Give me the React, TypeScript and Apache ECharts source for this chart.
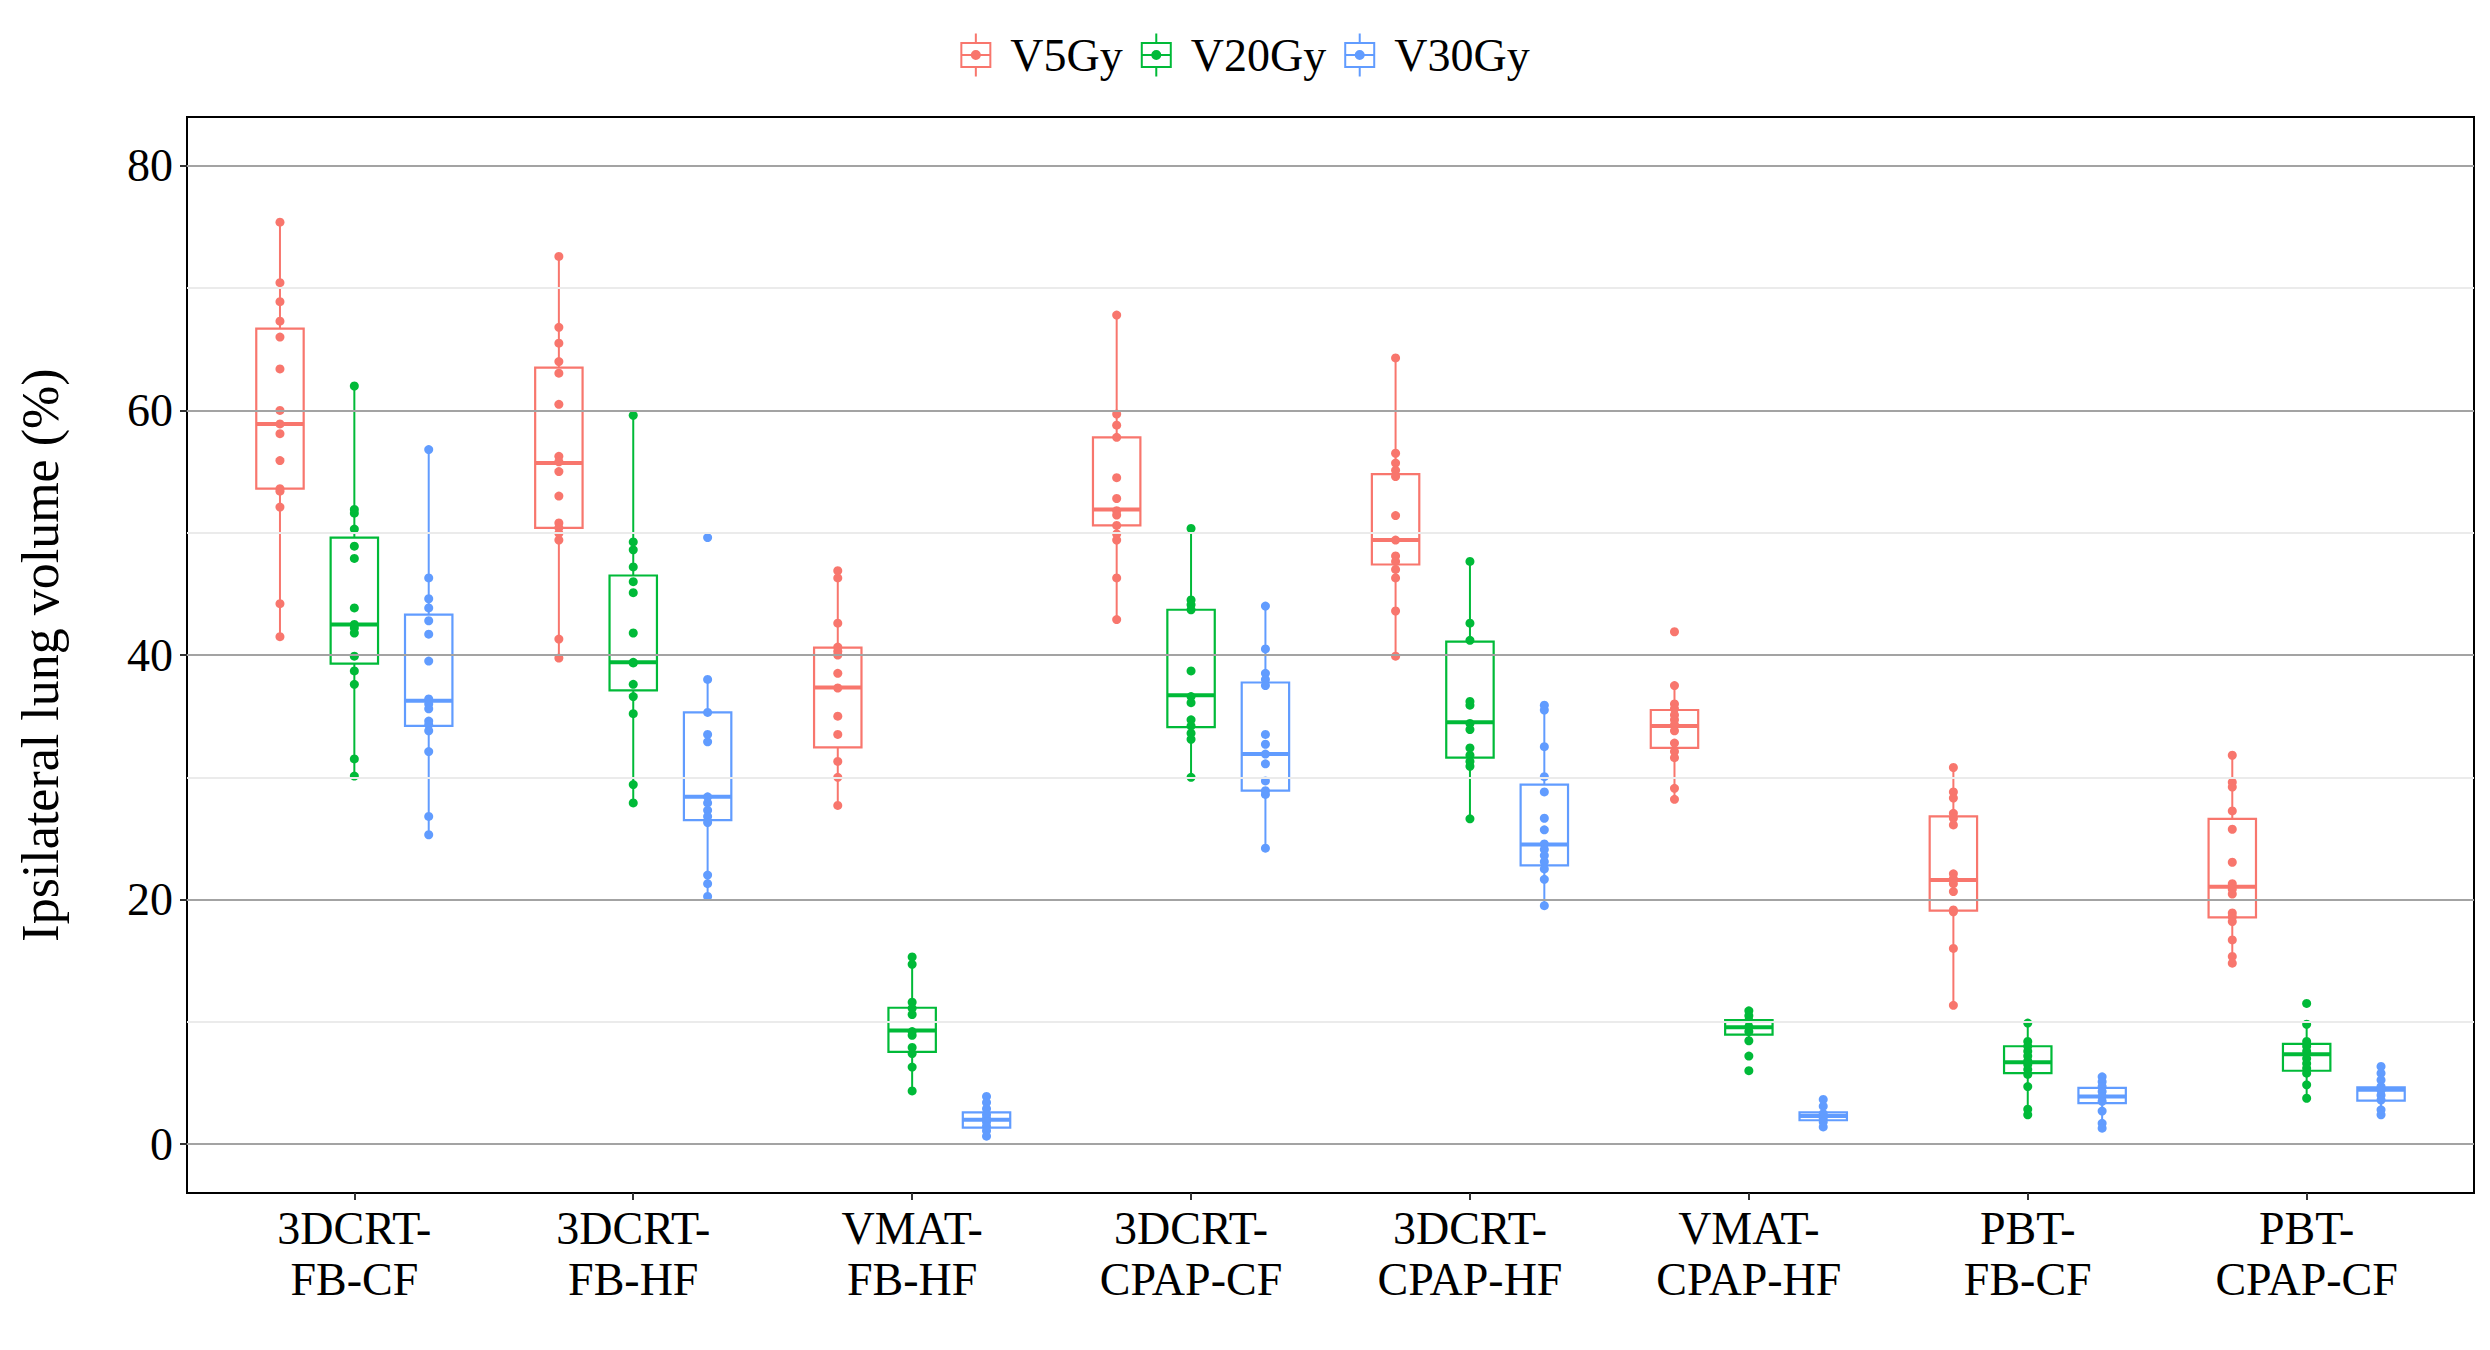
import React, { useEffect, useRef } from 'react';
import * as echarts from 'echarts';

const categories = [
  '3DCRT-\nFB-CF',
  '3DCRT-\nFB-HF',
  'VMAT-\nFB-HF',
  '3DCRT-\nCPAP-CF',
  '3DCRT-\nCPAP-HF',
  'VMAT-\nCPAP-HF',
  'PBT-\nFB-CF',
  'PBT-\nCPAP-CF',
];
const seriesNames = ['V5Gy', 'V20Gy', 'V30Gy'];
const seriesColors = ['#F8766D', '#00BA38', '#619CFF'];
const yTicks = [0, 20, 40, 60, 80];
const yMinorTicks = [10, 30, 50, 70];
const xTicks = [1, 2, 3, 4, 5, 6, 7, 8];

// [lower whisker, Q1, median, Q3, upper whisker]
const v5Box = [
  [41.5, 53.6, 58.9, 66.7, 75.4],
  [39.75, 50.4, 55.7, 63.5, 72.6],
  [27.7, 32.45, 37.35, 40.6, 46.9],
  [42.9, 50.6, 51.9, 57.8, 67.8],
  [39.9, 47.4, 49.4, 54.8, 64.3],
  [28.2, 32.4, 34.2, 35.5, 37.5],
  [11.35, 19.1, 21.6, 26.8, 30.8],
  [14.8, 18.55, 21.05, 26.6, 31.8],
];
const v20Box = [
  [30.1, 39.3, 42.5, 49.6, 62.0],
  [27.9, 37.1, 39.4, 46.5, 59.6],
  [4.35, 7.55, 9.3, 11.15, 15.3],
  [30.0, 34.1, 36.7, 43.7, 50.35],
  [26.6, 31.6, 34.5, 41.1, 47.65],
  [8.4, 8.95, 9.55, 10.15, 10.9],
  [2.4, 5.8, 6.7, 8.0, 9.9],
  [3.75, 6.0, 7.35, 8.2, 9.8],
];
const v30Box = [
  [25.3, 34.2, 36.25, 43.3, 56.8],
  [20.25, 26.5, 28.4, 35.3, 38.0],
  [0.65, 1.35, 2.0, 2.6, 3.9],
  [24.2, 28.9, 31.9, 37.75, 44.0],
  [19.5, 22.8, 24.5, 29.4, 35.9],
  [1.4, 1.95, 2.3, 2.6, 3.65],
  [1.3, 3.35, 3.9, 4.6, 5.5],
  [2.4, 3.55, 4.45, 4.65, 6.35],
];

const v5Points = [
  [75.4, 70.45, 68.9, 67.3, 66.0, 63.4, 60.0, 58.9, 58.1, 55.9, 53.6, 53.4, 52.1, 44.2, 41.5],
  [72.6, 66.8, 65.5, 64.0, 63.05, 60.5, 56.25, 55.8, 55.0, 53.0, 50.8, 50.4, 49.95, 49.4, 41.3, 39.75],
  [46.9, 46.3, 42.6, 40.65, 40.3, 40.0, 38.5, 37.3, 35.0, 33.5, 31.3, 30.0, 27.7],
  [67.8, 59.7, 58.8, 57.8, 54.5, 52.8, 51.8, 51.45, 50.6, 49.9, 49.4, 46.3, 42.9],
  [64.3, 56.5, 55.7, 55.1, 54.6, 51.4, 49.4, 48.1, 47.65, 47.0, 46.3, 43.6, 39.9],
  [41.9, 37.5, 36.0, 35.6, 35.1, 34.7, 34.3, 33.8, 32.8, 32.1, 31.6, 29.1, 28.2],
  [30.8, 28.8, 28.3, 27.05, 26.65, 26.1, 22.1, 21.7, 21.3, 20.65, 19.15, 19.0, 16.0, 11.35],
  [31.8, 29.6, 29.2, 27.25, 25.75, 23.05, 21.3, 20.85, 20.45, 18.9, 18.6, 18.2, 16.7, 15.35, 14.8],
];
const v20Points = [
  [62.0, 51.9, 51.6, 50.3, 48.9, 47.9, 43.85, 42.5, 42.2, 41.8, 39.9, 38.7, 37.6, 31.5, 30.1],
  [59.6, 49.25, 48.6, 47.2, 46.0, 45.1, 41.8, 39.4, 39.35, 37.6, 36.6, 35.2, 29.4, 27.9],
  [15.3, 14.7, 11.6, 11.1, 10.6, 9.2, 8.9, 7.9, 7.4, 6.3, 4.35],
  [50.35, 44.5, 44.1, 43.7, 38.7, 36.6, 36.1, 34.7, 34.2, 33.6, 33.1, 30.0],
  [47.65, 42.6, 41.2, 36.2, 35.9, 34.4, 33.9, 32.4, 31.8, 31.3, 30.9, 26.6],
  [10.9, 10.5, 10.1, 9.6, 9.2, 8.45, 7.2, 6.0],
  [9.9, 8.4, 8.0, 7.6, 7.2, 6.8, 6.5, 6.1, 5.7, 4.7, 2.85, 2.4],
  [11.5, 9.8, 8.4, 8.0, 7.6, 7.0, 6.6, 6.2, 5.8, 4.85, 3.75],
];
const v30Points = [
  [56.8, 46.3, 44.6, 43.85, 42.8, 41.7, 39.5, 36.4, 36.0, 35.6, 34.6, 34.3, 33.8, 32.1, 26.8, 25.3],
  [49.6, 38.0, 35.3, 33.5, 32.9, 28.4, 27.9, 27.3, 26.8, 26.3, 22.0, 21.3, 20.25],
  [3.9, 3.4, 2.9, 2.4, 2.1, 1.8, 1.45, 1.1, 0.65],
  [44.0, 40.5, 38.5, 38.0, 37.5, 33.5, 32.7, 31.9, 31.1, 29.7, 28.9, 28.6, 24.2],
  [35.9, 35.5, 32.5, 30.05, 28.8, 26.65, 25.7, 24.55, 24.1, 23.6, 23.1, 22.5, 21.65, 19.5],
  [3.65, 3.1, 2.5, 2.1, 1.8, 1.4],
  [5.5, 5.1, 4.7, 4.3, 3.9, 3.5, 2.7, 1.7, 1.3],
  [6.35, 5.8, 5.25, 4.7, 4.4, 4.0, 3.6, 2.8, 2.4],
];

const boxes = [v5Box, v20Box, v30Box];
const points = [v5Points, v20Points, v30Points];

const FONT = '"Liberation Serif", "Times New Roman", serif';
const DODGE = 0.8 / 3;
const BOX_W = 0.17;

const LEGEND_ICON =
  'path://M0 8.5H31V34.5H0Z M2 10.5V32.5H29V10.5Z ' +
  'M14.5 0H16.5V8.5H14.5Z M14.5 34.5H16.5V43H14.5Z ' +
  'M2 20.5H29V22.5H2Z ' +
  'M10.5 21.5A5 5 0 1 1 20.5 21.5A5 5 0 1 1 10.5 21.5Z';

export default function App() {
  const ref = useRef<HTMLDivElement>(null);

  useEffect(() => {
    document.body.style.margin = '0';
    if (!ref.current) return;
    const chart = echarts.init(ref.current, null, { renderer: 'svg' });

    const series: any[] = [];

    series.push({
      type: 'line',
      name: 'grid',
      data: [],
      z: 1,
      silent: true,
      markLine: {
        silent: true,
        symbol: 'none',
        label: { show: false },
        animation: false,
        data: [
          ...yMinorTicks.map((v) => ({ yAxis: v, lineStyle: { color: '#EBEBEB', width: 2, type: 'solid' } })),
          ...yTicks.map((v) => ({ yAxis: v, lineStyle: { color: '#A3A3A3', width: 2, type: 'solid' } })),
        ],
      },
    });

    seriesNames.forEach((name, si) => {
      const color = seriesColors[si];
      const offset = (si - 1) * DODGE;
      series.push({
        type: 'custom',
        name,
        z: 2,
        itemStyle: { color },
        data: boxes[si].map((b, i) => [i + 1, ...b]),
        renderItem: (params: any, api: any) => {
          const x = api.value(0) + offset;
          const lo = api.coord([x, api.value(1)]);
          const q1 = api.coord([x, api.value(2)]);
          const md = api.coord([x, api.value(3)]);
          const q3 = api.coord([x, api.value(4)]);
          const hi = api.coord([x, api.value(5)]);
          const half = api.size([BOX_W, 0])[0] / 2;
          const cx = lo[0];
          return {
            type: 'group',
            children: [
              { type: 'line', shape: { x1: cx, y1: hi[1], x2: cx, y2: q3[1] }, style: { stroke: color, lineWidth: 2 } },
              { type: 'line', shape: { x1: cx, y1: q1[1], x2: cx, y2: lo[1] }, style: { stroke: color, lineWidth: 2 } },
              {
                type: 'rect',
                shape: { x: cx - half, y: q3[1], width: half * 2, height: q1[1] - q3[1] },
                style: { fill: '#fff', stroke: color, lineWidth: 2.2 },
              },
              { type: 'line', shape: { x1: cx - half, y1: md[1], x2: cx + half, y2: md[1] }, style: { stroke: color, lineWidth: 4 } },
            ],
          };
        },
      });
    });

    seriesNames.forEach((name, si) => {
      const offset = (si - 1) * DODGE;
      series.push({
        type: 'scatter',
        name,
        z: 3,
        symbol: 'circle',
        symbolSize: 9,
        itemStyle: { color: seriesColors[si], opacity: 1 },
        data: points[si].flatMap((arr, i) => arr.map((v) => [i + 1 + offset, v])),
      });
    });

    chart.setOption({
      animation: false,
      backgroundColor: '#fff',
      legend: {
        top: 32,
        left: 'center',
        padding: 0,
        itemWidth: 31,
        itemHeight: 43,
        itemGap: 18,
        selectedMode: false,
        data: seriesNames.map((n) => ({ name: n, icon: LEGEND_ICON })),
        textStyle: { fontFamily: FONT, fontSize: 46, color: '#000', padding: [0, 0, 0, 14] },
      },
      grid: {
        left: 187,
        right: 16,
        top: 117,
        bottom: 157,
        show: true,
        borderColor: '#000',
        borderWidth: 2,
        backgroundColor: 'transparent',
      },
      xAxis: {
        type: 'value',
        min: 0.4,
        max: 8.6,
        splitLine: { show: false },
        axisLine: { show: true, onZero: false, lineStyle: { color: '#000', width: 2 } },
        axisTick: { show: true, length: 7, lineStyle: { color: '#333', width: 2 }, customValues: xTicks },
        axisLabel: {
          customValues: xTicks,
          margin: 10,
          fontFamily: FONT,
          fontSize: 46,
          lineHeight: 51,
          color: '#000',
          formatter: (v: number) => categories[Math.round(v) - 1] ?? '',
        },
      },
      yAxis: {
        type: 'value',
        min: -4,
        max: 84,
        splitLine: { show: false },
        axisLine: { show: true, onZero: false, lineStyle: { color: '#000', width: 2 } },
        axisTick: { show: true, length: 7, lineStyle: { color: '#333', width: 2 }, customValues: yTicks },
        axisLabel: {
          customValues: yTicks,
          margin: 14,
          fontFamily: FONT,
          fontSize: 46,
          color: '#000',
        },
      },
      graphic: [
        {
          type: 'text',
          x: 40,
          y: 655,
          rotation: Math.PI / 2,
          style: {
            text: 'Ipsilateral lung volume (%)',
            fontFamily: FONT,
            fontSize: 52,
            fill: '#000',
            align: 'center',
            verticalAlign: 'middle',
          },
        },
      ],
      series,
    });

    return () => {
      chart.dispose();
    };
  }, []);

  return <div ref={ref} style={{ width: 2490, height: 1350 }} />;
}
